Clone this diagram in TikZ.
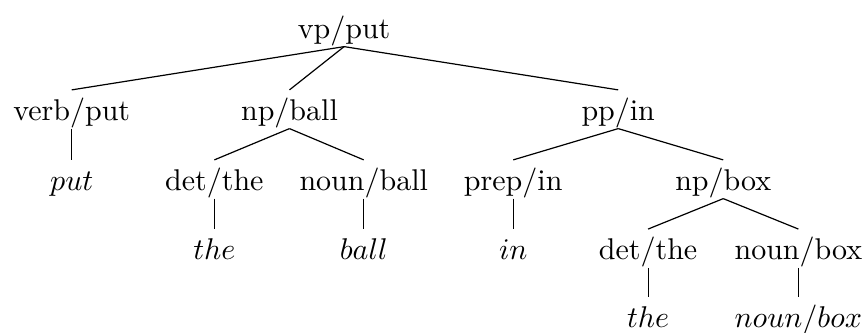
\documentclass[tikz,border=0pt]{standalone}
\usepackage{tikz}

\begin{document}
\begin{tikzpicture}[
        cat/.style={inner sep=0pt, text height=10pt, text depth=2.5pt, anchor=base},
        branch/.style={thin}
    ]
        \useasboundingbox (-4.03,0.451) rectangle (6.10,-3.44);

        % Categories with their heads
        \node[cat] (vp) at (0,0) {vp/put};
        \node[cat] (verb) at (-3.19,-0.96) {verb/put};
        \node[cat] (npball) at (-0.64,-0.96) {np/ball};
        \node[cat] (pp) at (3.21,-0.96) {pp/in};
        \node[cat] (detA) at (-1.52,-1.78) {det/the};
        \node[cat] (nounball) at (0.23,-1.78) {noun/ball};
        \node[cat] (prep) at (1.98,-1.78) {prep/in};
        \node[cat] (npbox) at (4.44,-1.78) {np/box};
        \node[cat] (detB) at (3.56,-2.59) {det/the};
        \node[cat] (nounbox) at (5.32,-2.59) {noun/box};

        % Words at the leaves
        \node[cat] (put) at (-3.19,-1.78) {$put$};
        \node[cat] (theA) at (-1.52,-2.59) {$the$};
        \node[cat] (ball) at (0.23,-2.59) {$ball$};
        \node[cat] (in) at (1.98,-2.59) {$in$};
        \node[cat] (theB) at (3.56,-3.38) {$the$};
        \node[cat] (box) at (5.32,-3.38) {$noun/box$};

        % Branches
        \draw[branch] (vp.south) -- (verb.north);
        \draw[branch] (vp.south) -- (npball.north);
        \draw[branch] (vp.south) -- (pp.north);
        \draw[branch] (verb.south) -- (put.north);
        \draw[branch] (npball.south) -- (detA.north);
        \draw[branch] (npball.south) -- (nounball.north);
        \draw[branch] (detA.south) -- (theA.north);
        \draw[branch] (nounball.south) -- (ball.north);
        \draw[branch] (pp.south) -- (prep.north);
        \draw[branch] (pp.south) -- (npbox.north);
        \draw[branch] (prep.south) -- (in.north);
        \draw[branch] (npbox.south) -- (detB.north);
        \draw[branch] (npbox.south) -- (nounbox.north);
        \draw[branch] (detB.south) -- (theB.north);
        \draw[branch] (nounbox.south) -- (box.north);
    \end{tikzpicture}
\end{document}
